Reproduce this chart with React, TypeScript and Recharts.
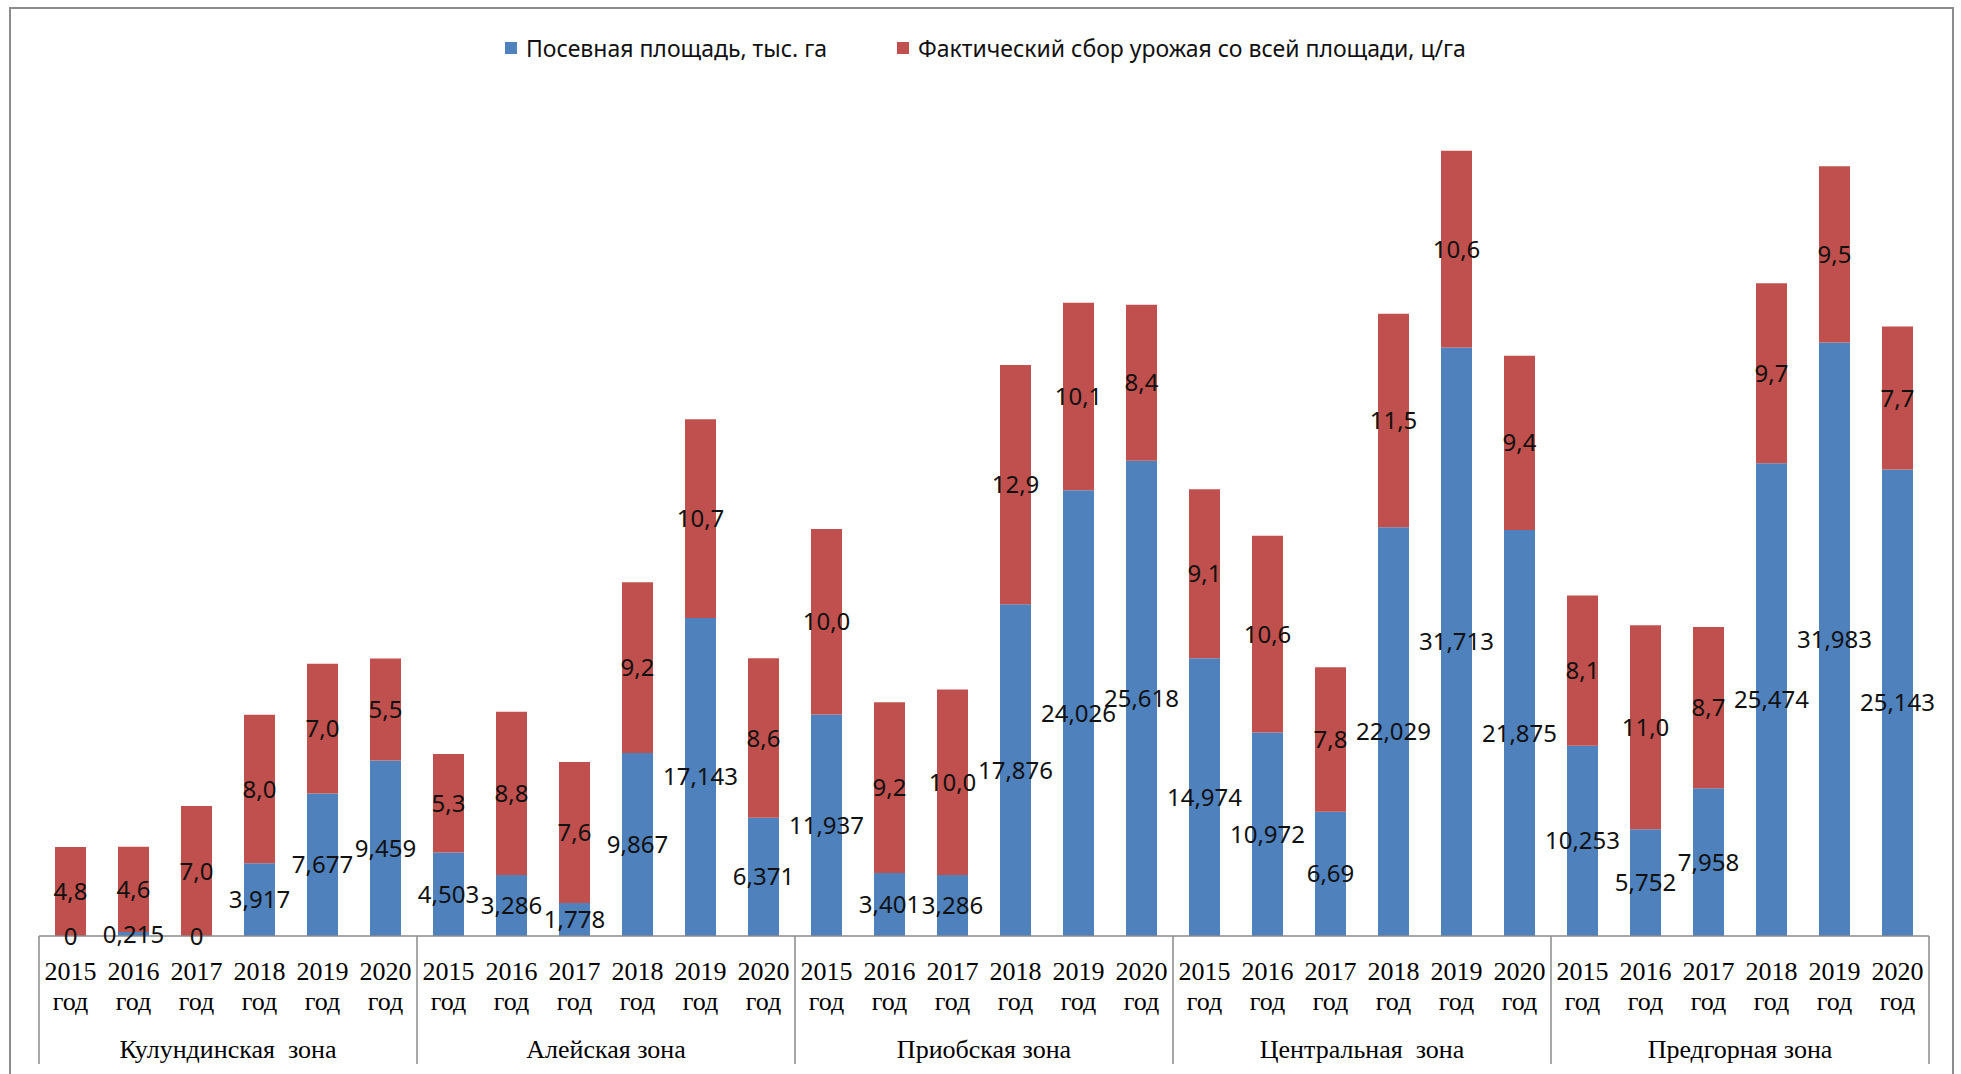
import React from "react";
import { BarChart, Bar, XAxis, YAxis, LabelList, Legend } from "recharts";

// Zones and years of the grouped category axis
const zones = [
  "Кулундинская  зона",
  "Алейская зона",
  "Приобская зона",
  "Центральная  зона",
  "Предгорная зона",
];
const years = ["2015", "2016", "2017", "2018", "2019", "2020"];

// Посевная площадь, тыс. га (6 years per zone)
const area = [
  0, 0.215, 0, 3.917, 7.677, 9.459,
  4.503, 3.286, 1.778, 9.867, 17.143, 6.371,
  11.937, 3.401, 3.286, 17.876, 24.026, 25.618,
  14.974, 10.972, 6.69, 22.029, 31.713, 21.875,
  10.253, 5.752, 7.958, 25.474, 31.983, 25.143,
];

// Фактический сбор урожая со всей площади, ц/га
const harvest = [
  4.8, 4.6, 7.0, 8.0, 7.0, 5.5,
  5.3, 8.8, 7.6, 9.2, 10.7, 8.6,
  10.0, 9.2, 10.0, 12.9, 10.1, 8.4,
  9.1, 10.6, 7.8, 11.5, 10.6, 9.4,
  8.1, 11.0, 8.7, 9.7, 9.5, 7.7,
];

const seriesNames = [
  "Посевная площадь, тыс. га",
  "Фактический сбор урожая со всей площади, ц/га",
];

const BLUE = "#4F81BD";
const RED = "#C0504D";
const AXIS = "#8a8a8a";
const SERIF = "'Liberation Serif', 'Times New Roman', serif";
const SANS = "'Noto Sans', 'Open Sans', sans-serif";

const data = area.map((a, i) => ({
  key: `${zones[Math.floor(i / 6)]}|${years[i % 6]}|${i}`,
  year: years[i % 6],
  zone: zones[Math.floor(i / 6)],
  area: a,
  harvest: harvest[i],
}));

const fmtArea = (v: any) => String(v).replace(".", ",");
const fmtHarvest = (v: any) => Number(v).toFixed(1).replace(".", ",");

function YearTick(props: any) {
  const { x, y, index, payload } = props;
  const half = payload.offset ?? 31.5;
  const item = data[index];
  return (
    <g>
      {index % 6 === 0 && (
        <line x1={x - half} y1={y} x2={x - half} y2={y + 128} stroke={AXIS} strokeWidth={1.5} />
      )}
      {index === data.length - 1 && (
        <line x1={x + half} y1={y} x2={x + half} y2={y + 128} stroke={AXIS} strokeWidth={1.5} />
      )}
      <text x={x} y={y + 44} textAnchor="middle" fontFamily={SERIF} fontSize={26} fill="#000">
        {item.year}
      </text>
      <text x={x} y={y + 74} textAnchor="middle" fontFamily={SERIF} fontSize={26} fill="#000">
        год
      </text>
      {index % 6 === 2 && (
        <text
          x={x + half}
          y={y + 122}
          textAnchor="middle"
          fontFamily={SERIF}
          fontSize={26}
          fill="#000"
          style={{ whiteSpace: "pre" }}
        >
          {item.zone}
        </text>
      )}
    </g>
  );
}

function LegendContent() {
  const colors = [BLUE, RED];
  return (
    <div style={{ position: "relative", height: 30, fontFamily: SANS, fontSize: 23, color: "#111" }}>
      {seriesNames.map((name, i) => (
        <div
          key={name}
          style={{
            position: "absolute",
            left: i === 0 ? 505 : 897,
            top: 0,
            display: "flex",
            alignItems: "center",
            whiteSpace: "nowrap",
          }}
        >
          <span style={{ display: "inline-block", width: 12, height: 12, background: colors[i], marginRight: 9 }} />
          <span>{name}</span>
        </div>
      ))}
    </div>
  );
}

export default function App() {
  return (
    <div
      style={{
        position: "fixed",
        left: 0,
        top: 0,
        width: 1961,
        height: 1074,
        overflow: "hidden",
        background: "#fff",
      }}
    >
      <div
        style={{
          position: "absolute",
          left: 9,
          top: 7,
          width: 1945,
          height: 1200,
          border: "2px solid #8c8c8c",
          boxSizing: "border-box",
        }}
      />
      <div style={{ position: "absolute", left: 0, top: 0 }}>
        <BarChart
          width={1961}
          height={1074}
          data={data}
          margin={{ top: 101, right: 32, bottom: 0, left: 39 }}
          barSize={31}
        >
          <Legend
            layout="horizontal"
            verticalAlign="middle"
            align="center"
            wrapperStyle={{ top: 32, left: 0, width: 1961 }}
            content={<LegendContent />}
          />
          <YAxis hide domain={[0, 45]} />
          <XAxis
            dataKey="key"
            interval={0}
            height={138}
            tickSize={0}
            tickMargin={0}
            tickLine={false}
            axisLine={{ stroke: AXIS, strokeWidth: 1.5 }}
            tick={<YearTick />}
          />
          <Bar dataKey="area" stackId="a" fill={BLUE} minPointSize={0.01} isAnimationActive={false}>
            <LabelList
              dataKey="area"
              position="center"
              formatter={fmtArea}
              fill="#111"
              fontSize={24}
              fontFamily={SANS}
            />
          </Bar>
          <Bar dataKey="harvest" stackId="a" fill={RED} isAnimationActive={false}>
            <LabelList
              dataKey="harvest"
              position="center"
              formatter={fmtHarvest}
              fill="#111"
              fontSize={24}
              fontFamily={SANS}
            />
          </Bar>
        </BarChart>
      </div>
    </div>
  );
}
